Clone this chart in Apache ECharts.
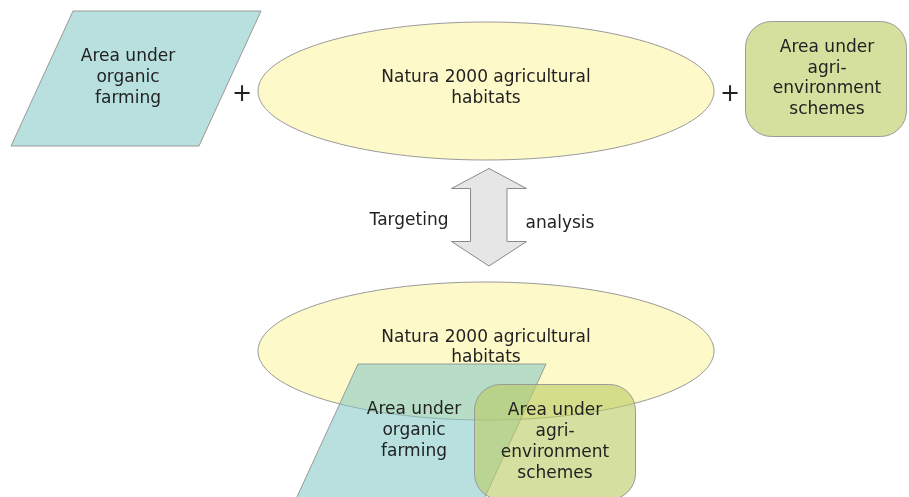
<!DOCTYPE html>
<html><head><meta charset="utf-8">
<script src="https://cdn.jsdelivr.net/npm/echarts@6/dist/echarts.min.js"></script>
<style>html,body{margin:0;padding:0;background:#fff}#c{width:909px;height:497px}</style>
</head><body><div id="c"></div>
<script>
const organicLabel = ['Area under', 'organic', 'farming'];
const naturaLabel = ['Natura 2000 agricultural', 'habitats'];
const agriLabel = ['Area under', 'agri-', 'environment', 'schemes'];
const arrowLabels = ['Targeting', 'analysis'];
const joinSymbols = ['+', '+'];

const FONT = '"DejaVu Sans", Verdana, sans-serif';
const TEXT_COLOR = '#222222';
const STROKE = '#9a9a9a';
const C_ORG = '#b8e0de';
const C_NAT = '#fdf9c8';
const C_AGRI = '#d5e09e';
const C_ORG_T = 'rgba(129,200,196,0.56)';
const C_AGRI_T = 'rgba(185,203,97,0.6)';
const DY = 1.5;

function label(lines, x, y, lh, z) {
  return {
    type: 'text', x: x, y: y + DY, z: z || 10,
    style: { text: lines.join('\n'), font: '17px ' + FONT, fill: TEXT_COLOR,
      align: 'center', verticalAlign: 'middle', lineHeight: lh }
  };
}
function para(dx, dy, fill, z) {
  return {
    type: 'polygon', z: z,
    shape: { points: [[73 + dx, 11 + dy], [261 + dx, 11 + dy], [199 + dx, 146 + dy], [11 + dx, 146 + dy]] },
    style: { fill: fill, stroke: STROKE, lineWidth: 1 }
  };
}
function ell(cy, z) {
  return {
    type: 'ellipse', z: z,
    shape: { cx: 486, cy: cy, rx: 228, ry: 69 },
    style: { fill: C_NAT, stroke: STROKE, lineWidth: 1 }
  };
}
function rrect(x, y, fill, z) {
  return {
    type: 'rect', z: z,
    shape: { x: x, y: y, width: 161, height: 115, r: 26 },
    style: { fill: fill, stroke: STROKE, lineWidth: 1 }
  };
}
function plus(sym, x) {
  return { type: 'text', x: x, y: 93 + DY, z: 10,
    style: { text: sym, font: '24px ' + FONT, fill: TEXT_COLOR, align: 'center', verticalAlign: 'middle' } };
}

const graphics = [
  para(0, 0, C_ORG, 1),
  ell(91, 1),
  rrect(745.5, 21.5, C_AGRI, 1),
  label(organicLabel, 128, 76, 21),
  label(naturaLabel, 486, 86.5, 21),
  label(agriLabel, 827, 77, 20.7),
  plus(joinSymbols[0], 242),
  plus(joinSymbols[1], 730),
  {
    type: 'polygon', z: 1,
    shape: { points: [[489, 168.5], [526.5, 188.5], [507, 188.5], [507, 241.5], [526.5, 241.5], [489, 266], [451.5, 241.5], [470.5, 241.5], [470.5, 188.5], [451.5, 188.5]] },
    style: { fill: '#e6e6e6', stroke: '#8a8a8a', lineWidth: 1 }
  },
  label([arrowLabels[0]], 409, 219, 20),
  label([arrowLabels[1]], 560, 222, 20),
  ell(351, 2),
  para(285, 353, C_ORG_T, 3),
  rrect(474.5, 384.5, C_AGRI_T, 4),
  label(naturaLabel, 486, 346, 20.5),
  label(organicLabel, 414, 429, 21),
  label(agriLabel, 555, 440.5, 21)
];

const chart = echarts.init(document.getElementById('c'), null, { renderer: 'canvas' });
chart.setOption({ animation: false, backgroundColor: '#fff', graphic: { elements: graphics } });
</script></body></html>
